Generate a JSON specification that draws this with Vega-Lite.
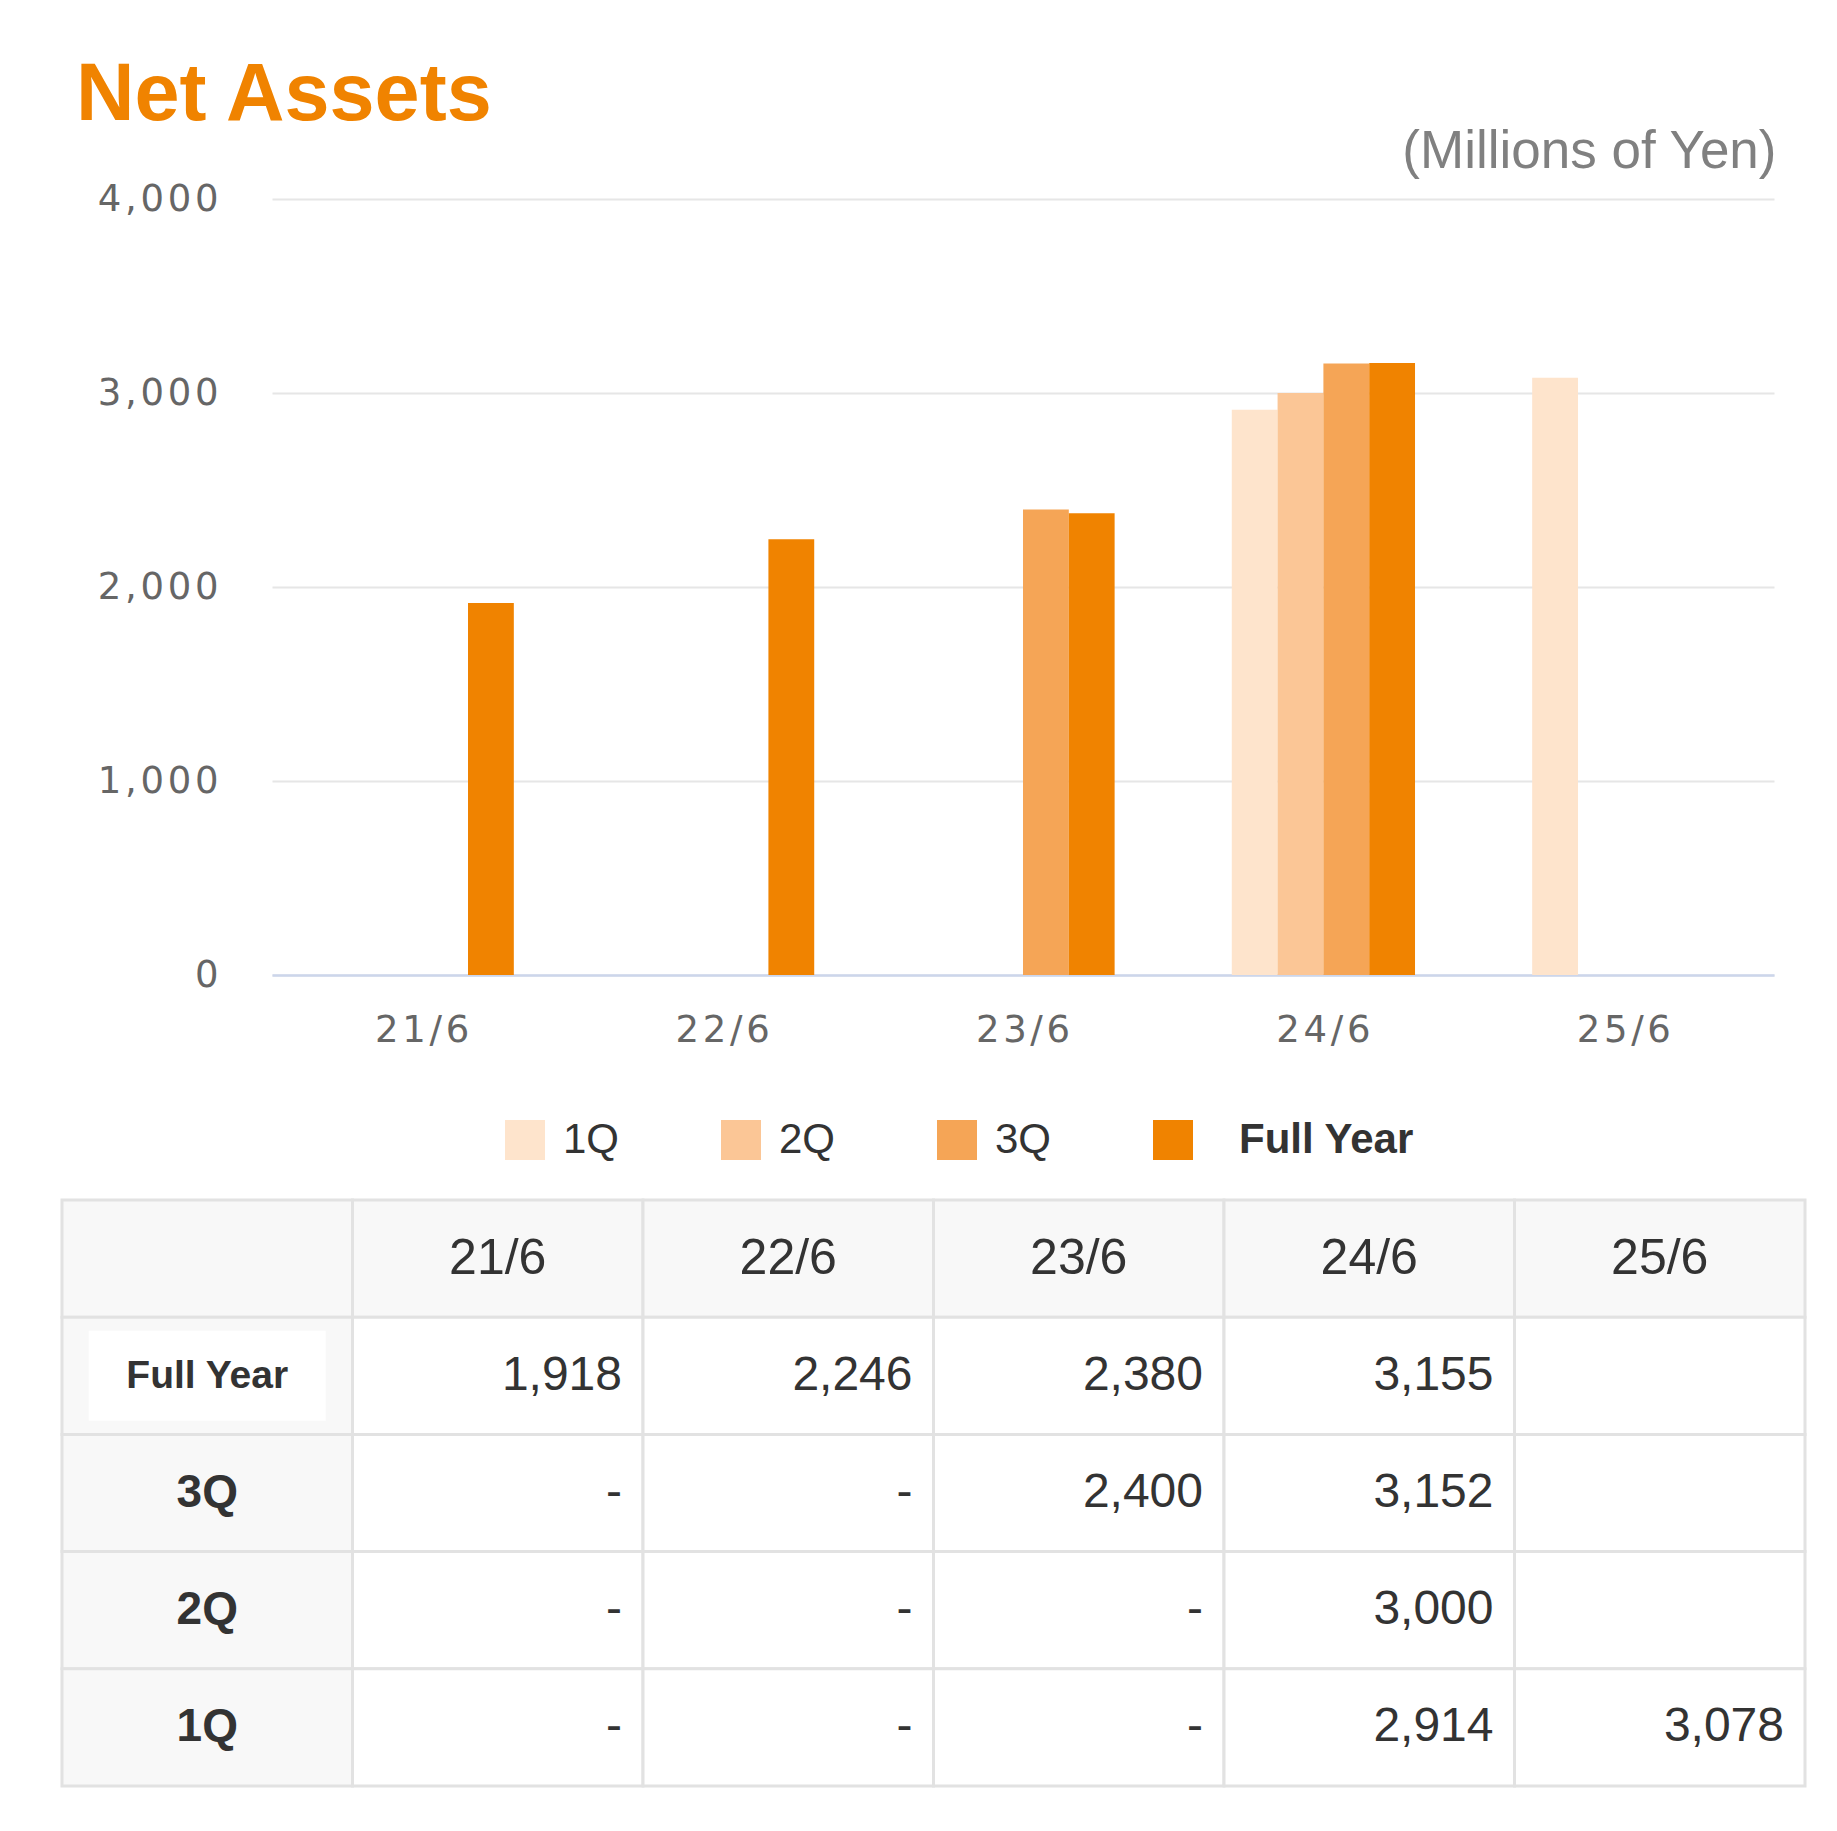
{
  "$schema": "https://vega.github.io/schema/vega-lite/v6.json",
  "background": "white",
  "padding": {"left": 60, "top": 55, "right": 26, "bottom": 30},
  "title": {"text": "Net Assets", "anchor": "start", "font": "Liberation Sans", "fontSize": 81, "fontWeight": "bold", "color": "#F08300", "dx": 16, "offset": -12},
  "spacing": 37,
  "resolve": {"scale": {"color": "independent"}, "legend": {"color": "independent"}},
  "datasets": {
    "bars": [
      {"period": "21/6", "series": "Full Year", "value": 1918},
      {"period": "22/6", "series": "Full Year", "value": 2246},
      {"period": "23/6", "series": "3Q", "value": 2400},
      {"period": "23/6", "series": "Full Year", "value": 2380},
      {"period": "24/6", "series": "1Q", "value": 2914},
      {"period": "24/6", "series": "2Q", "value": 3000},
      {"period": "24/6", "series": "3Q", "value": 3152},
      {"period": "24/6", "series": "Full Year", "value": 3155},
      {"period": "25/6", "series": "1Q", "value": 3078}
    ],
    "table": [
      {"row": "Period", "col": "Series", "text": ""},
      {"row": "Period", "col": "21/6", "text": "21/6"},
      {"row": "Period", "col": "22/6", "text": "22/6"},
      {"row": "Period", "col": "23/6", "text": "23/6"},
      {"row": "Period", "col": "24/6", "text": "24/6"},
      {"row": "Period", "col": "25/6", "text": "25/6"},
      {"row": "Full Year", "col": "Series", "text": "Full Year"},
      {"row": "Full Year", "col": "21/6", "text": "1,918"},
      {"row": "Full Year", "col": "22/6", "text": "2,246"},
      {"row": "Full Year", "col": "23/6", "text": "2,380"},
      {"row": "Full Year", "col": "24/6", "text": "3,155"},
      {"row": "Full Year", "col": "25/6", "text": ""},
      {"row": "3Q", "col": "Series", "text": "3Q"},
      {"row": "3Q", "col": "21/6", "text": "-"},
      {"row": "3Q", "col": "22/6", "text": "-"},
      {"row": "3Q", "col": "23/6", "text": "2,400"},
      {"row": "3Q", "col": "24/6", "text": "3,152"},
      {"row": "3Q", "col": "25/6", "text": ""},
      {"row": "2Q", "col": "Series", "text": "2Q"},
      {"row": "2Q", "col": "21/6", "text": "-"},
      {"row": "2Q", "col": "22/6", "text": "-"},
      {"row": "2Q", "col": "23/6", "text": "-"},
      {"row": "2Q", "col": "24/6", "text": "3,000"},
      {"row": "2Q", "col": "25/6", "text": ""},
      {"row": "1Q", "col": "Series", "text": "1Q"},
      {"row": "1Q", "col": "21/6", "text": "-"},
      {"row": "1Q", "col": "22/6", "text": "-"},
      {"row": "1Q", "col": "23/6", "text": "-"},
      {"row": "1Q", "col": "24/6", "text": "2,914"},
      {"row": "1Q", "col": "25/6", "text": "3,078"}
    ]
  },
  "vconcat": [
    {
      "width": 1502,
      "height": 776,
      "data": {"name": "bars"},
      "mark": {"type": "bar"},
      "encoding": {
        "x": {
          "field": "period", "type": "nominal",
          "sort": ["21/6", "22/6", "23/6", "24/6", "25/6"],
          "scale": {"paddingInner": 0.39, "paddingOuter": 0.195},
          "axis": {
            "title": null, "grid": false, "ticks": false,
            "domainColor": "#CCD6EB", "domainWidth": 2.5,
            "labelAngle": 0, "labelFont": "DejaVu Sans", "labelFontSize": 37,
            "labelColor": "#666666", "labelPadding": 37,
            "labelExpr": "join(split(datum.label, ''), '\u200a')"
          }
        },
        "xOffset": {
          "field": "series", "type": "nominal",
          "scale": {"domain": ["1Q", "2Q", "3Q", "Full Year"], "paddingInner": 0, "paddingOuter": 0}
        },
        "y": {
          "field": "value", "type": "quantitative",
          "scale": {"domain": [0, 4000]},
          "axis": {
            "title": "(Millions of Yen)", "titleAngle": 0, "titleAlign": "right",
            "titleBaseline": "alphabetic", "titleX": 1504, "titleY": -32,
            "titleFont": "Liberation Sans", "titleFontSize": 53, "titleFontWeight": "normal",
            "titleColor": "#808080",
            "values": [0, 1000, 2000, 3000, 4000],
            "labelFont": "DejaVu Sans", "labelFontSize": 37, "labelColor": "#666666",
            "labelPadding": 54, "domain": false, "ticks": false,
            "minExtent": 212, "maxExtent": 212,
            "gridColor": "#E6E6E6", "gridWidth": 2,
            "labelExpr": "join(split(format(datum.value, ','), ''), '\u200a')"
          }
        },
        "color": {
          "field": "series", "type": "nominal",
          "scale": {"domain": ["1Q", "2Q", "3Q", "Full Year"], "range": ["#FEE4CC", "#FBC696", "#F5A556", "#F08300"]},
          "legend": {
            "title": null, "orient": "none", "legendX": 232, "legendY": 920,
            "direction": "horizontal", "symbolType": "square", "symbolSize": 1600,
            "symbolStrokeWidth": 0, "symbolOpacity": 1,
            "labelFont": "Liberation Sans", "labelFontSize": 42, "labelColor": "#333333",
            "labelOffset": {"expr": "datum.label == 'Full Year' ? 45 : 17"},
            "columnPadding": 100, "labelLimit": 400,
            "labelFontWeight": {"expr": "datum.label == 'Full Year' ? 'bold' : 'normal'"}
          }
        }
      }
    },
    {
      "width": 1533,
      "height": 586,
      "data": {"name": "table"},
      "encoding": {
        "x": {
          "field": "col", "type": "nominal",
          "sort": ["Series", "21/6", "22/6", "23/6", "24/6", "25/6"],
          "scale": {"range": [-210, 1533], "paddingInner": 0, "paddingOuter": 0}, "axis": null
        },
        "y": {
          "field": "row", "type": "nominal",
          "sort": ["Period", "Full Year", "3Q", "2Q", "1Q"],
          "scale": {"paddingInner": 0, "paddingOuter": 0}, "axis": null
        }
      },
      "layer": [
        {
          "mark": {"type": "rect", "stroke": "#E2E2E2", "strokeWidth": 3},
          "encoding": {
            "fill": {"condition": {"test": "datum.row == 'Period' || datum.col == 'Series'", "value": "#F8F8F8"}, "value": "#FFFFFF"}
          }
        },
        {
          "transform": [{"filter": "datum.row == 'Full Year' && datum.col == 'Series'"}],
          "mark": {"type": "point", "shape": "M-1,-0.38H1V0.38H-1Z", "filled": true, "size": 56169, "color": "#FFFFFF", "opacity": 1, "strokeWidth": 0}
        },
        {
          "transform": [{"filter": "datum.row == 'Period'"}],
          "mark": {"type": "text", "font": "Liberation Sans", "fontSize": 50, "color": "#333333"},
          "encoding": {"text": {"field": "text"}}
        },
        {
          "transform": [{"filter": "datum.col == 'Series' && datum.row != 'Period'"}],
          "mark": {"type": "text", "font": "Liberation Sans", "fontWeight": "bold", "color": "#333333"},
          "encoding": {
            "text": {"field": "text"},
            "size": {"condition": {"test": "datum.row == 'Full Year'", "value": 39}, "value": 46}
          }
        },
        {
          "transform": [{"filter": "datum.col != 'Series' && datum.row != 'Period'"}],
          "mark": {"type": "text", "font": "Liberation Sans", "align": "right", "dx": -21, "fontSize": 48, "color": "#333333"},
          "encoding": {
            "x": {"field": "col", "type": "nominal", "bandPosition": 1, "sort": ["Series", "21/6", "22/6", "23/6", "24/6", "25/6"]},
            "text": {"field": "text"}
          }
        }
      ]
    }
  ],
  "config": {"view": {"stroke": null}, "font": "Liberation Sans"}
}
